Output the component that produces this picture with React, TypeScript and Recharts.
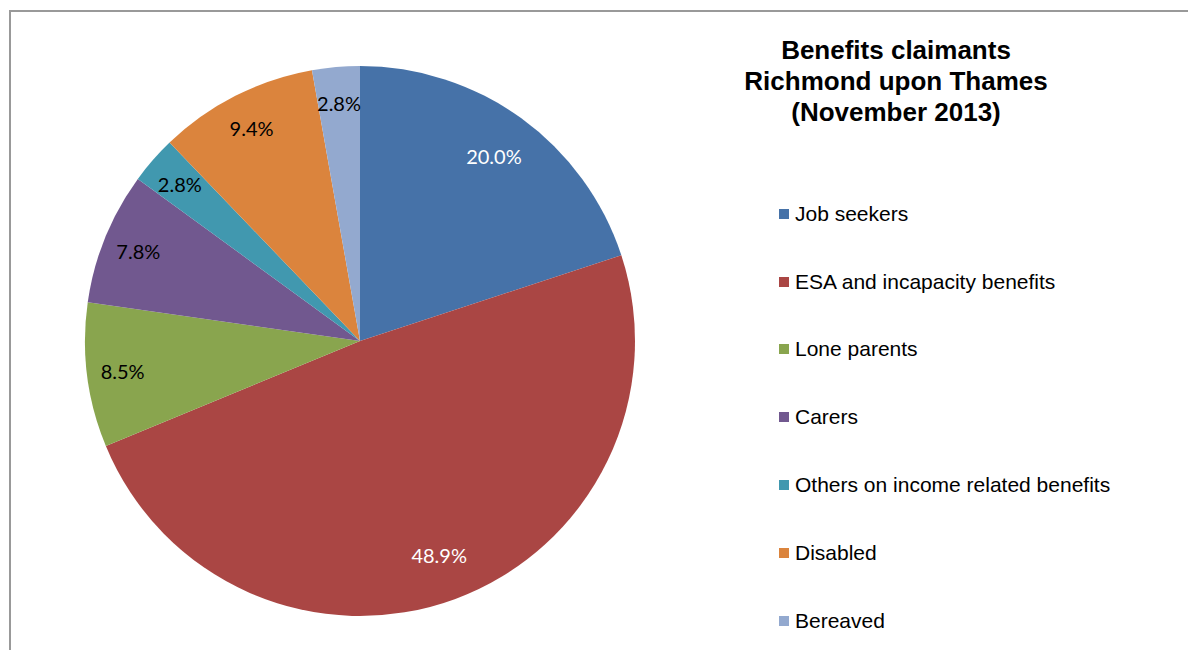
import { PieChart, Pie, Cell, Legend } from "recharts"

// Benefit claimant groups, Richmond upon Thames, November 2013
const categories = [
  "Job seekers",
  "ESA and incapacity benefits",
  "Lone parents",
  "Carers",
  "Others on income related benefits",
  "Disabled",
  "Bereaved",
]
const shares = [20.0, 48.9, 8.5, 7.8, 2.8, 9.4, 2.8]
const labels = ["20.0%", "48.9%", "8.5%", "7.8%", "2.8%", "9.4%", "2.8%"]

const colors = ["#4672A8", "#AA4644", "#89A54E", "#71588F", "#4198AF", "#DB843D", "#93A9CF"]
const labelColors = ["#fff", "#fff", "#000", "#000", "#000", "#000", "#000"]

const data = categories.map((name, i) => ({ name, value: shares[i], label: labels[i] }))

const RAD = Math.PI / 180

function renderLabel(props: any) {
  const { cx, cy, midAngle, outerRadius, index } = props
  // big slices sit a bit further in, like excel's best fit
  const r = outerRadius * (shares[index] > 15 ? 0.83 : 0.87)
  const x = cx + r * Math.cos(-midAngle * RAD)
  const y = cy + r * Math.sin(-midAngle * RAD)
  return (
    <text
      x={x}
      y={y}
      fill={labelColors[index]}
      textAnchor="middle"
      dominantBaseline="central"
      style={{ fontFamily: "Lato, sans-serif", fontSize: 20 }}
    >
      {labels[index]}
    </text>
  )
}

// keep the legend in data order (recharts sorts it by name otherwise)
function renderLegend() {
  return (
    <div style={{ fontFamily: "'Liberation Sans', Arial, sans-serif", fontSize: 21, color: "#000" }}>
      {categories.map((name, i) => (
        <div key={name} style={{ height: 67.8, display: "flex", alignItems: "center" }}>
          <span
            style={{
              display: "inline-block",
              width: 10,
              height: 10,
              background: colors[i],
              marginRight: 6,
            }}
          />
          <span>{name}</span>
        </div>
      ))}
    </div>
  )
}

export default function App() {
  return (
    <div style={{ position: "absolute", left: 0, top: 0, width: 1188, height: 650, background: "#fff", overflow: "hidden" }}>
      <div
        style={{
          position: "absolute",
          left: 9,
          top: 10,
          width: 1300,
          height: 800,
          borderLeft: "2px solid #999",
          borderTop: "2px solid #999",
        }}
      />
      <div
        style={{
          position: "absolute",
          left: 696,
          top: 35,
          width: 400,
          textAlign: "center",
          fontFamily: "'Liberation Sans', Arial, sans-serif",
          fontWeight: "bold",
          fontSize: 26,
          lineHeight: "31px",
          color: "#000",
        }}
      >
        Benefits claimants
        <br />
        Richmond upon Thames
        <br />
        (November 2013)
      </div>
      <PieChart
        width={1188}
        height={650}
        margin={{ top: 0, right: 0, bottom: 0, left: 0 }}
        style={{ position: "absolute", left: 0, top: 0 }}
      >
        <Pie
          data={data}
          dataKey="value"
          nameKey="name"
          cx={360}
          cy={341}
          outerRadius={275}
          startAngle={90}
          endAngle={-270}
          stroke="none"
          label={renderLabel}
          labelLine={false}
          isAnimationActive={false}
        >
          {data.map((_, i) => (
            <Cell key={i} fill={colors[i]} />
          ))}
        </Pie>
        <Legend
          layout="vertical"
          content={renderLegend}
          wrapperStyle={{ position: "absolute", left: 779, top: 180, width: 400 }}
        />
      </PieChart>
    </div>
  )
}
